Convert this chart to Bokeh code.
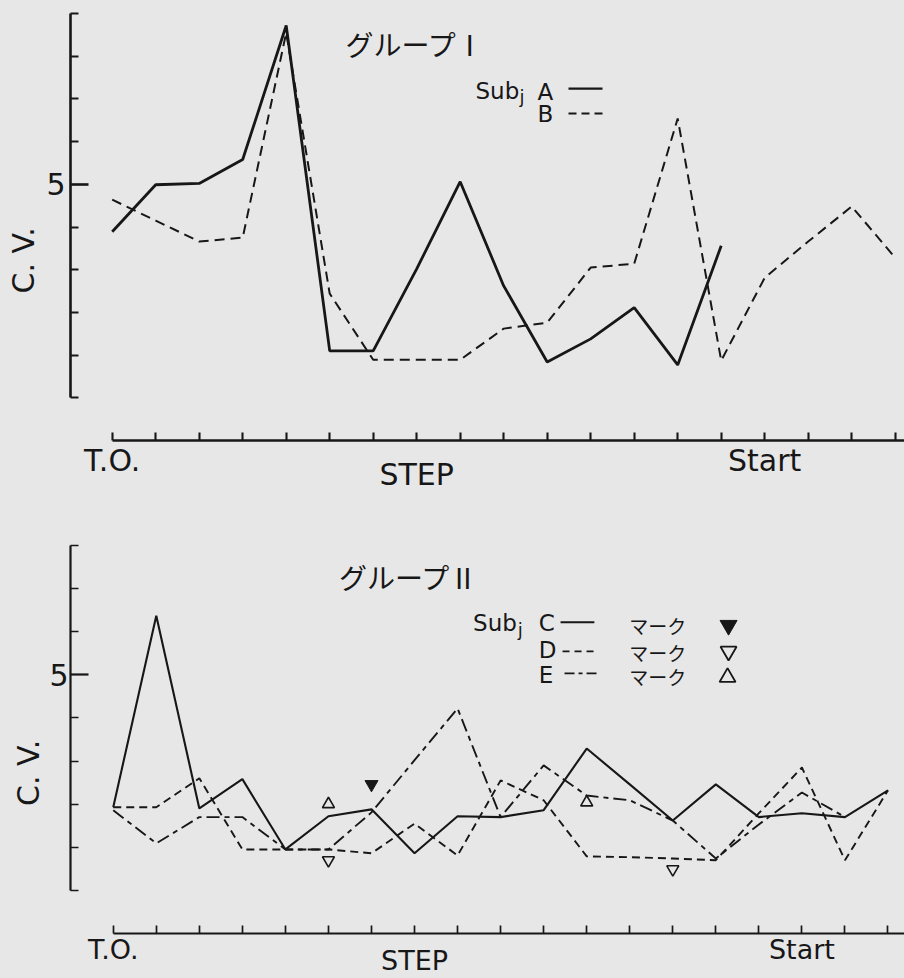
from bokeh.plotting import figure
from bokeh.layouts import column
from bokeh.models import LinearAxis, FixedTicker, Range1d
from bokeh.core.properties import value
from bokeh.embed import file_html
from bokeh.resources import INLINE

# ---------------- data ----------------
steps = list(range(19))
top_tick_labels = {0: "T.O.", 7: "\nSTEP", 15: "Start"}
bottom_tick_labels = {0: "T.O.", 7: "\nSTEP", 16: "Start"}
cv_label = "C. V."
title_top = "グループⅠ"
title_bottom = "グループⅡ"
mark_word = "マーク"

# Group I
subj_a_steps = list(range(15))
subj_a = [3.89, 4.99, 5.02, 5.58, 8.72, 1.10, 1.10, 3.02, 5.06, 2.62, 0.84, 1.38, 2.11, 0.77, 3.56]
subj_b_steps = list(range(19))
subj_b = [4.64, 4.15, 3.66, 3.75, 8.55, 2.44, 0.89, 0.89, 0.89, 1.62, 1.76, 3.05, 3.14, 6.54, 0.87, 2.81, 3.66, 4.48, 3.28]

# Group II
subj_c_steps = list(range(19))
subj_c = [1.93, 6.37, 1.90, 2.58, 0.95, 1.72, 1.88, 0.86, 1.72, 1.70, 1.86, 3.29, 2.46, 1.62, 2.46, 1.70, 1.79, 1.70, 2.32]
subj_d_steps = list(range(19))
subj_d = [1.93, 1.93, 2.60, 0.95, 0.95, 0.95, 0.86, 1.55, 0.81, 2.55, 2.09, 0.79, 0.77, 0.74, 0.70, 1.79, 2.85, 0.70, 2.32]
subj_e_steps = list(range(18))
subj_e = [1.86, 1.09, 1.70, 1.70, 0.95, 0.95, 1.81, 3.02, 4.22, 1.70, 2.90, 2.20, 2.09, 1.62, 0.74, 1.53, 2.27, 1.70]

mark_c_steps = [6]
mark_c_vals = [2.46]
mark_d_steps = [5, 13]
mark_d_vals = [0.70, 0.49]
mark_e_steps = [5, 11]
mark_e_vals = [2.00, 2.04]

# ---------------- style ----------------
INK = "#171717"
BG = "#e7e7e7"
LATIN = "DejaVu Sans"
CJK = "Noto Sans CJK JP"
W = 904


def base_figure(height, x_range, y_range, left, top, bottom):
    p = figure(width=W, height=height, x_range=Range1d(*x_range), y_range=Range1d(*y_range),
               x_axis_type=None, y_axis_type=None, toolbar_location=None,
               output_backend="svg", min_border_left=left, min_border_right=0,
               min_border_top=top, min_border_bottom=bottom)
    p.background_fill_color = BG
    p.border_fill_color = BG
    p.outline_line_color = None
    return p


def add_axes(p, y_max, x_end, tick_labels, y_std, yl_std, x_std, lw, xfs, lh):
    ya = LinearAxis(bounds=(0, y_max),
                    ticker=FixedTicker(ticks=[5], minor_ticks=[i for i in range(y_max + 1) if i != 5]),
                    axis_label=cv_label + "\u00a0" * 7,
                    axis_label_text_font=LATIN, axis_label_text_font_size="30px",
                    axis_label_text_font_style="normal", axis_label_text_color=INK,
                    axis_label_standoff=yl_std,
                    major_label_text_font=LATIN, major_label_text_font_size="30px",
                    major_label_text_color=INK, major_label_standoff=y_std,
                    major_tick_in=18, major_tick_out=0, minor_tick_in=8, minor_tick_out=0,
                    axis_line_width=lw, major_tick_line_width=lw, minor_tick_line_width=lw - 0.5,
                    axis_line_color=INK, major_tick_line_color=INK, minor_tick_line_color=INK)
    p.add_layout(ya, "left")
    xa = LinearAxis(bounds=(0, x_end), ticker=FixedTicker(ticks=steps, minor_ticks=[]),
                    major_label_overrides={i: tick_labels.get(i, "") for i in steps},
                    major_label_text_font=LATIN, major_label_text_font_size=xfs,
                    major_label_text_line_height=lh,
                    major_label_text_color=INK, major_label_standoff=x_std,
                    major_tick_in=8, major_tick_out=0,
                    axis_line_width=lw, major_tick_line_width=lw - 0.5,
                    axis_line_color=INK, major_tick_line_color=INK)
    p.add_layout(xa, "below")


# ================= top panel (Group I) =================
# page-pixel -> data helpers, used only for title/legend placement
TX0, TDX, TY0, TDY = 111.7, 43.5, 397.0, 42.67
def tx(px): return (px - TX0) / TDX
def ty(py): return (TY0 - py) / TDY

p1 = base_figure(498, (tx(70), tx(W)), (-1.0, 9.0), 70, 13, 58)
add_axes(p1, 9, tx(W) - 0.01, top_tick_labels, 5, 2, 2, 2.6, "30px", 0.42)

p1.line(subj_b_steps, subj_b, line_color=INK, line_width=2.0, line_dash="10 6")
p1.line(subj_a_steps, subj_a, line_color=INK, line_width=2.8)

p1.text(x=[tx(345)], y=[ty(43)], text=[title_top], text_font=value(CJK), text_font_size="28px",
        text_color=INK, text_baseline="middle", text_align="left")
p1.text(x=[tx(475)], y=[ty(90)], text=["Sub"], text_font=value(LATIN), text_font_size="23px",
        text_color=INK, text_baseline="middle")
p1.text(x=[tx(519)], y=[ty(96)], text=["j"], text_font=value(LATIN), text_font_size="18px",
        text_color=INK, text_baseline="middle")
p1.text(x=[tx(537), tx(537)], y=[ty(91), ty(113)], text=["A", "B"], text_font=value(LATIN),
        text_font_size="23px", text_color=INK, text_baseline="middle")
p1.line([tx(568), tx(602)], [ty(88), ty(88)], line_color=INK, line_width=2.4)
p1.line([tx(568), tx(604)], [ty(113), ty(113)], line_color=INK, line_width=2.0, line_dash="8 5")

# ================= bottom panel (Group II) =================
BX0, BDX, BY0, BDY = 108.0, 43.3, 890.0, 43.1
def bx(px): return (px - BX0) / BDX
def by(py): return (BY0 - py) / BDY

p2 = base_figure(480, (bx(65), bx(W)), (-1.0, 8.0), 65, 47, 45)
add_axes(p2, 8, bx(W) - 0.01, bottom_tick_labels, 2, 0, 0, 2.2, "27px", 0.36)

p2.line(subj_e_steps, subj_e, line_color=INK, line_width=1.9, line_dash="13 5 5 5")
p2.line(subj_d_steps, subj_d, line_color=INK, line_width=1.9, line_dash="8 5")
p2.line(subj_c_steps, subj_c, line_color=INK, line_width=2.1)

p2.scatter(mark_c_steps, mark_c_vals, marker="inverted_triangle", size=13,
           fill_color=INK, line_color=INK)
p2.scatter(mark_d_steps, mark_d_vals, marker="inverted_triangle", size=12,
           fill_color=None, line_color=INK, line_width=1.6)
p2.scatter(mark_e_steps, mark_e_vals, marker="triangle", size=12,
           fill_color=None, line_color=INK, line_width=1.6)

p2.text(x=[bx(335)], y=[by(577)], text=[title_bottom], text_font=value(CJK), text_font_size="28px",
        text_color=INK, text_baseline="middle", text_align="left")
p2.text(x=[bx(470)], y=[by(623)], text=["Sub"], text_font=value(LATIN), text_font_size="23px",
        text_color=INK, text_baseline="middle")
p2.text(x=[bx(515)], y=[by(629)], text=["j"], text_font=value(LATIN), text_font_size="18px",
        text_color=INK, text_baseline="middle")
p2.text(x=[bx(536)] * 3, y=[by(623), by(650), by(675)], text=["C", "D", "E"],
        text_font=value(LATIN), text_font_size="23px", text_color=INK, text_baseline="middle")
p2.line([bx(558), bx(592)], [by(622), by(622)], line_color=INK, line_width=2.0)
p2.line([bx(560), bx(594)], [by(651), by(651)], line_color=INK, line_width=1.8, line_dash="7 5")
p2.line([bx(562), bx(596)], [by(673), by(673)], line_color=INK, line_width=1.8, line_dash="10 4 4 4")
p2.text(x=[bx(627)] * 3, y=[by(625), by(652), by(676)], text=[mark_word] * 3,
        text_font=value(CJK), text_font_size="19px", text_color=INK, text_baseline="middle")
p2.scatter([bx(727)], [by(625)], marker="inverted_triangle", size=17, fill_color=INK, line_color=INK)
p2.scatter([bx(727)], [by(651)], marker="inverted_triangle", size=16, fill_color=None,
           line_color=INK, line_width=1.8)
p2.scatter([bx(726)], [by(677)], marker="triangle", size=16, fill_color=None,
           line_color=INK, line_width=1.8)

layout = column(p1, p2, spacing=0, styles={"background-color": BG})
open("out.html", "w").write(file_html(layout, INLINE))
